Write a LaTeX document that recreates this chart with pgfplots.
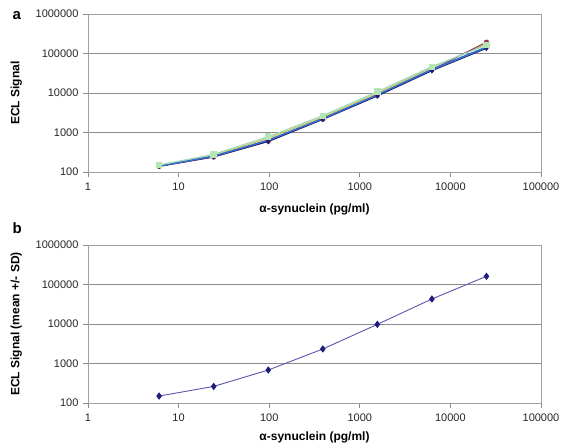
\documentclass[border=0pt]{standalone}
\usepackage{fontspec}
\setmainfont{Liberation Sans}
\usepackage{pgfplots}
\pgfplotsset{compat=1.18}
\definecolor{gridgray}{HTML}{8C8C8C}
\definecolor{boxgray}{HTML}{A0A0A0}
\definecolor{navy}{HTML}{1E1C7C}
\definecolor{lilac}{HTML}{5E54AE}
\definecolor{maroon}{HTML}{993355}
\definecolor{ochre}{HTML}{D8C040}
\definecolor{sky}{HTML}{2F6FC8}
\definecolor{mint}{HTML}{B4E6B4}
\definecolor{mintline}{HTML}{9ED8C0}

\begin{document}
\begin{tikzpicture}
\path[use as bounding box] (-88pt,-275pt) rectangle (475pt,172pt);

% panel a: individual runs
\begin{axis}[at={(0,0)}, anchor=south west,
    scale only axis, width=453pt, height=158pt,
    xmode=log, ymode=log,
    xmin=1, xmax=100000, ymin=100, ymax=1000000,
    xtick={1,10,100,1000,10000,100000},
    xticklabels={1,10,100,1000,10000,100000},
    ytick={100,1000,10000,100000,1000000},
    yticklabels={100,1000,10000,100000,1000000},
    xminorticks=false, yminorticks=false,
    ymajorgrids, grid style={gridgray, line width=0.8pt},
    axis line style={boxgray, line width=0.8pt},
    tick style={gridgray, line width=0.8pt},
    tick align=outside, major tick length=5pt,
    xtick pos=bottom, ytick pos=left,
    ticklabel style={font=\fontsize{11}{13}\selectfont, text=black!85},
    xticklabel style={yshift=-2pt},
    yticklabel style={xshift=-1pt},
    xlabel={\textbf{α-synuclein (pg/ml)}},
    xlabel style={at={(axis description cs:0.5,-0.235)}, anchor=center, font=\fontsize{12}{14}\selectfont},
    ylabel style={at={(axis description cs:-0.158,0.5)}, anchor=center, font=\fontsize{12}{14}\selectfont},
    ylabel={\textbf{ECL Signal}}]
\addplot[ochre, line width=1pt, mark=triangle*, mark size=2pt] coordinates {
  (6.1,148)(24.4,262)(97.7,720)(390.6,2450)(1562.5,9900)(6250,44000)(25000,175000)};
\addplot[maroon, line width=1pt, mark=*, mark size=2pt] coordinates {
  (6.1,138)(24.4,238)(97.7,600)(390.6,2150)(1562.5,8600)(6250,38500)(25000,195000)};
\addplot[navy, line width=1pt, mark=diamond*, mark size=2pt] coordinates {
  (6.1,140)(24.4,243)(97.7,590)(390.6,2150)(1562.5,8400)(6250,36600)(25000,135000)};
\addplot[sky, line width=1.6pt] coordinates {
  (6.1,142)(24.4,250)(97.7,640)(390.6,2250)(1562.5,9000)(6250,39500)(25000,145000)};
\addplot[mintline, line width=1.2pt, mark=square*, mark size=2.6pt,
    mark options={fill=mint, draw=mint}] coordinates {
  (6.1,150)(24.4,280)(97.7,783)(390.6,2660)(1562.5,10800)(6250,46300)(25000,164000)};
\end{axis}
\node[anchor=base west, font=\fontsize{15}{17}\selectfont\bfseries] at (-79pt,152pt) {a};

% panel b: mean +/- SD
\begin{axis}[at={(0,-231pt)}, anchor=south west,
    scale only axis, width=453pt, height=158pt,
    xmode=log, ymode=log,
    xmin=1, xmax=100000, ymin=100, ymax=1000000,
    xtick={1,10,100,1000,10000,100000},
    xticklabels={1,10,100,1000,10000,100000},
    ytick={100,1000,10000,100000,1000000},
    yticklabels={100,1000,10000,100000,1000000},
    xminorticks=false, yminorticks=false,
    ymajorgrids, grid style={gridgray, line width=0.8pt},
    axis line style={boxgray, line width=0.8pt},
    tick style={gridgray, line width=0.8pt},
    tick align=outside, major tick length=5pt,
    xtick pos=bottom, ytick pos=left,
    ticklabel style={font=\fontsize{11}{13}\selectfont, text=black!85},
    xticklabel style={yshift=-2pt},
    yticklabel style={xshift=-1pt},
    xlabel={\textbf{α-synuclein (pg/ml)}},
    xlabel style={at={(axis description cs:0.5,-0.215)}, anchor=center, font=\fontsize{12}{14}\selectfont},
    ylabel style={at={(axis description cs:-0.158,0.5)}, anchor=center, font=\fontsize{12}{14}\selectfont},
    ylabel={\textbf{ECL Signal (mean +/- SD)}}]
\addplot[lilac, line width=0.9pt, mark=diamond*, mark size=3pt,
    mark options={navy, fill=navy}] coordinates {
  (6.1,150)(24.4,263)(97.7,684)(390.6,2330)(1562.5,9800)(6250,43000)(25000,161000)};
\end{axis}
\node[anchor=base west, font=\fontsize{15}{17}\selectfont\bfseries] at (-79pt,-62pt) {b};
\end{tikzpicture}
\end{document}
